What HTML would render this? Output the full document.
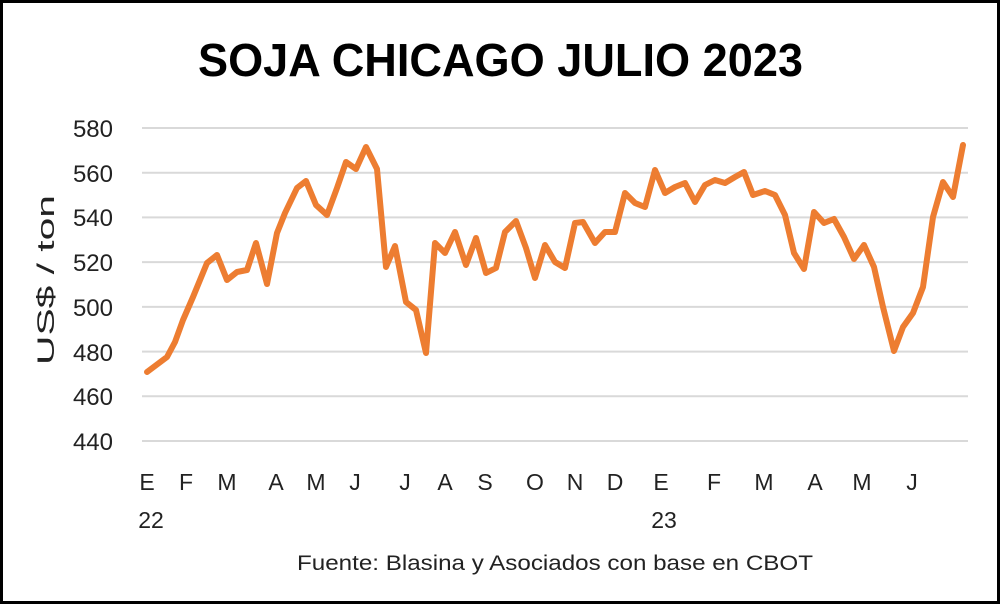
<!DOCTYPE html>
<html><head><style>
html,body{margin:0;padding:0;background:#fff;}
body{width:1000px;height:604px;overflow:hidden;}
</style></head><body>
<svg width="1000" height="604" xmlns="http://www.w3.org/2000/svg" font-family="Liberation Sans, sans-serif">
<rect x="1.5" y="1.5" width="997" height="601" fill="#fff" stroke="#000" stroke-width="3"/>
<text x="198" y="76" textLength="605" lengthAdjust="spacingAndGlyphs" font-size="46" font-weight="bold" fill="#000">SOJA CHICAGO JULIO 2023</text>
<g stroke="#d9d9d9" stroke-width="2">
<line x1="142" x2="968" y1="128" y2="128"/><line x1="142" x2="968" y1="172.7" y2="172.7"/>
<line x1="142" x2="968" y1="217.4" y2="217.4"/><line x1="142" x2="968" y1="262.1" y2="262.1"/>
<line x1="142" x2="968" y1="306.9" y2="306.9"/><line x1="142" x2="968" y1="351.6" y2="351.6"/>
<line x1="142" x2="968" y1="396.3" y2="396.3"/><line x1="142" x2="968" y1="441" y2="441"/>
</g>
<g font-size="24" fill="#222" text-anchor="end">
<text x="113" y="137">580</text><text x="113" y="182">560</text><text x="113" y="226">540</text>
<text x="113" y="271">520</text><text x="113" y="316">500</text><text x="113" y="361">480</text>
<text x="113" y="405">460</text><text x="113" y="450">440</text>
</g>
<text transform="translate(54,365) rotate(-90)" textLength="170" lengthAdjust="spacingAndGlyphs" font-size="24" fill="#222">US$ / ton</text>
<g font-size="23" fill="#222" text-anchor="middle">
<text x="147" y="490">E</text><text x="186" y="490">F</text><text x="227" y="490">M</text>
<text x="276" y="490">A</text><text x="316" y="490">M</text><text x="355" y="490">J</text>
<text x="405" y="490">J</text><text x="445" y="490">A</text><text x="485" y="490">S</text>
<text x="535" y="490">O</text><text x="575" y="490">N</text><text x="615" y="490">D</text>
<text x="661" y="490">E</text><text x="714" y="490">F</text><text x="764" y="490">M</text>
<text x="815" y="490">A</text><text x="862" y="490">M</text><text x="912" y="490">J</text>
<text x="151" y="528">22</text><text x="664" y="528">23</text>
</g>
<text x="297" y="570" textLength="516" lengthAdjust="spacingAndGlyphs" font-size="21" fill="#222">Fuente: Blasina y Asociados con base en CBOT</text>
<polyline fill="none" stroke="#ed7d31" stroke-width="6" stroke-linejoin="round" stroke-linecap="round" points="147,372 167,357 175,342 183,320 193,297 207,263 217,255 227,280 237,272 247,270 256,243 267,284 277,233 285,213 297,188 306,181 316,205 327,215 337,188 346,162 356,169 366,147 377,169 386,267 395,246 406,302 416,310 426,353 435,243 445,253 455,232 466,265 476,238 486,273 496,268 505,232 516,221 526,248 535,278 545,245 555,262 565,268 575,223 583,222 595,243 605,232 615,232 625,193 635,203 645,207 655,170 665,193 675,187 685,183 695,202 705,185 715,180 725,183 735,177 744,172 753,195 765,191 775,195 785,215 794,253 804,269 814,212 824,223 834,219 844,237 854,259 864,245 874,267 883,307 894,351 903,327 913,313 923,287 933,217 943,182 953,197 963,145"/>
</svg>
</body></html>
